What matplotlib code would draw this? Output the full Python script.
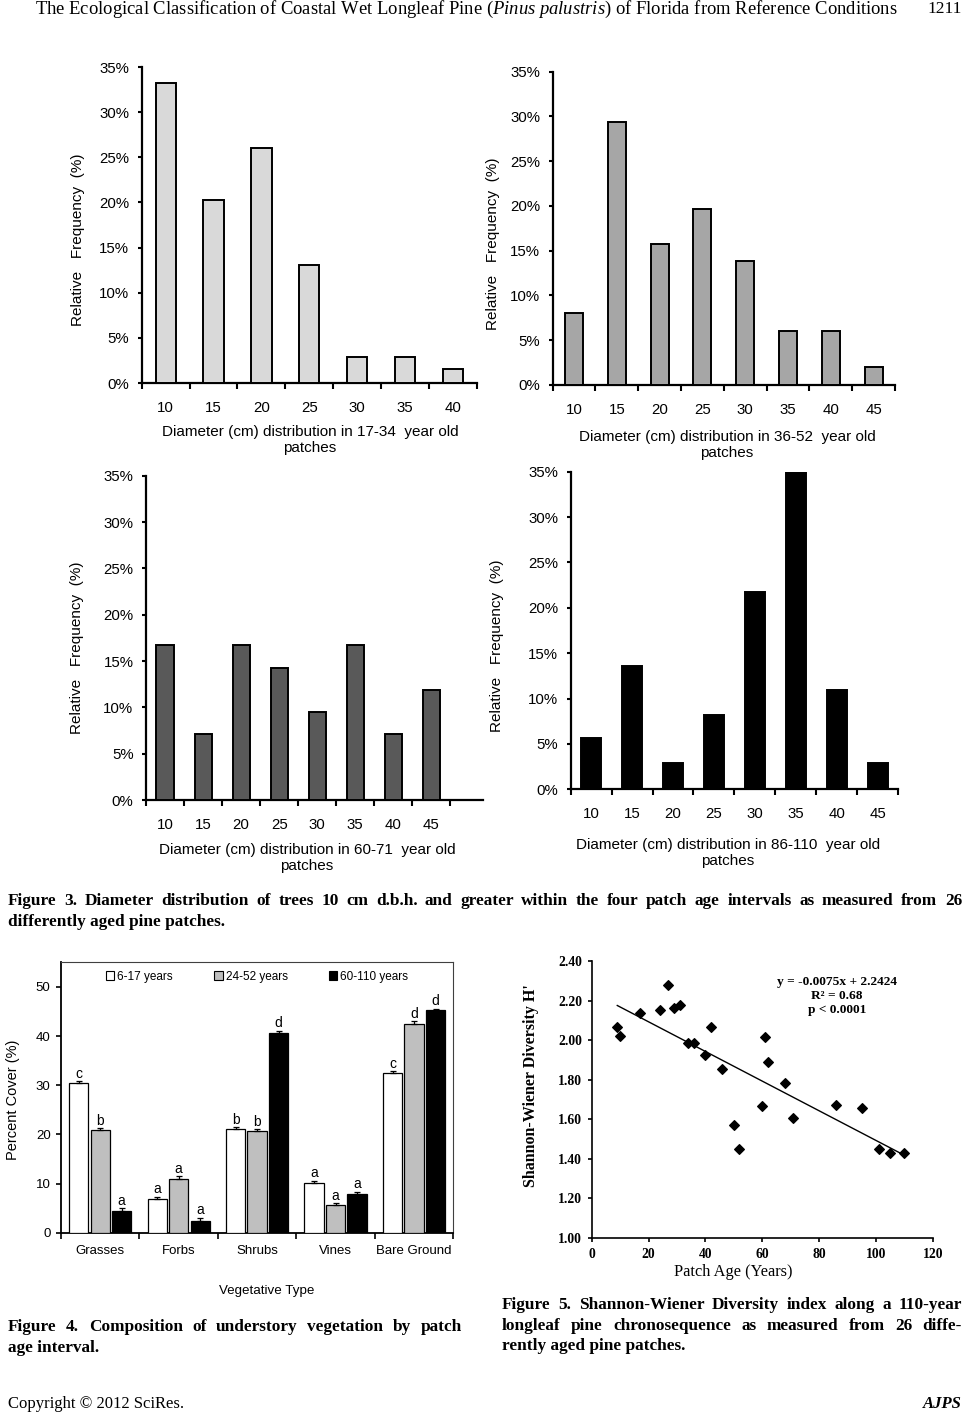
import numpy as np
import matplotlib
matplotlib.use("Agg")
import matplotlib.pyplot as plt
from matplotlib.patches import Patch
from matplotlib.ticker import FixedLocator, MultipleLocator, FuncFormatter

W, H = 965, 1414
plt.rcParams['font.family'] = ['Liberation Sans', 'DejaVu Sans']
plt.rcParams['mathtext.fontset'] = 'custom'
plt.rcParams['mathtext.rm'] = 'Liberation Serif'
plt.rcParams['mathtext.it'] = 'Liberation Serif:italic'

# ---- Figure 3: diameter distributions (relative frequency, %)
dbh_17_34 = ['10', '15', '20', '25', '30', '35', '40']
freq_17_34 = [33.2, 20.3, 26.0, 13.1, 2.9, 2.9, 1.5]
dbh_36_52 = ['10', '15', '20', '25', '30', '35', '40', '45']
freq_36_52 = [8.0, 29.4, 15.8, 19.7, 13.8, 6.0, 6.0, 2.0]
dbh_60_71 = ['10', '15', '20', '25', '30', '35', '40', '45']
freq_60_71 = [16.7, 7.1, 16.7, 14.3, 9.5, 16.7, 7.1, 11.9]
dbh_86_110 = ['10', '15', '20', '25', '30', '35', '40', '45']
freq_86_110 = [5.6, 13.6, 2.9, 8.2, 21.7, 35.0, 10.9, 2.9]

# ---- Figure 4: understory cover (%)
veg_types = ['Grasses', 'Forbs', 'Shrubs', 'Vines', 'Bare Ground']
age_groups = ['6-17 years', '24-52 years', '60-110 years']
cover_6_17 = [30.4, 6.8, 21.0, 10.1, 32.4]
cover_24_52 = [20.8, 11.0, 20.6, 5.6, 42.4]
cover_60_110 = [4.4, 2.3, 40.6, 7.9, 45.2]
err_6_17 = [0.45, 0.5, 0.45, 0.5, 0.45]
err_24_52 = [0.4, 0.45, 0.45, 0.4, 0.6]
err_60_110 = [0.6, 0.7, 0.45, 0.45, 0.35]
letters_6_17 = ['c', 'a', 'b', 'a', 'c']
letters_24_52 = ['b', 'a', 'b', 'a', 'd']
letters_60_110 = ['a', 'a', 'd', 'a', 'd']

# ---- Figure 5: Shannon-Wiener diversity vs patch age
patch_age = [9, 10, 17, 24, 27, 29, 31, 34, 36, 40, 42, 46, 50, 52,
             60, 61, 62, 68, 71, 86, 95, 101, 105, 110]
diversity = [2.064, 2.021, 2.135, 2.150, 2.279, 2.164, 2.176, 1.985, 1.983,
             1.924, 2.064, 1.855, 1.568, 1.447, 1.668, 2.014, 1.891, 1.784,
             1.604, 1.673, 1.655, 1.449, 1.427, 1.427]
slope, intercept = -0.0075, 2.2424

fig = plt.figure(figsize=(W / 100, H / 100), dpi=100)


def fx(x):
    return x / W


def fy(y):
    return 1 - y / H


def add_ax(l, t, r, b):
    return fig.add_axes([l / W, 1 - b / H, (r - l) / W, (b - t) / H])


def diam_panel(box, labels, values, color, xmax, width, ylab_xy, xlab_xy, xlab):
    ax = add_ax(*box)
    pos = np.arange(len(labels))
    ax.bar(pos, values, width=width, color=color, edgecolor='black',
           linewidth=1.4, zorder=3)
    ax.set_xlim(-0.5, xmax)
    ax.set_ylim(0, 35)
    for s in ['top', 'right']:
        ax.spines[s].set_visible(False)
    for s in ['left', 'bottom']:
        ax.spines[s].set_linewidth(1.6)
    ax.yaxis.set_major_locator(MultipleLocator(5))
    ax.yaxis.set_major_formatter(FuncFormatter(lambda v, p: '%d%%' % v))
    ax.tick_params(axis='y', direction='out', length=3, width=1.5,
                   labelsize=10.8, pad=6)
    ax.set_xticks(pos)
    ax.set_xticklabels(labels)
    ax.xaxis.set_minor_locator(FixedLocator(np.arange(len(labels) + 1) - 0.5))
    ax.tick_params(axis='x', which='major', length=0, labelsize=10.8, pad=13)
    ax.tick_params(axis='x', which='minor', direction='out', length=4, width=1.5)
    fig.text(fx(ylab_xy[0]), fy(ylab_xy[1]), 'Relative   Frequency  (%)',
             rotation=90, ha='center', va='center', fontsize=11)
    fig.text(fx(xlab_xy[0]), fy(xlab_xy[1]), xlab, ha='center', va='center',
             fontsize=11, linespacing=1.1)
    return ax


diam_panel((141.7, 67, 477, 383), dbh_17_34, freq_17_34, '#d9d9d9', 6.5, 0.42,
           (78, 240), (310, 440),
           'Diameter (cm) distribution in 17-34  year old\npatches')
diam_panel((552.7, 71.7, 895, 385), dbh_36_52, freq_36_52, '#a6a6a6', 7.5, 0.42,
           (493, 244), (727, 445),
           'Diameter (cm) distribution in 36-52  year old\npatches')
diam_panel((146, 475.7, 482.7, 800), dbh_60_71, freq_60_71, '#595959', 8.35, 0.45,
           (77, 648), (307, 858),
           'Diameter (cm) distribution in 60-71  year old\npatches')
diam_panel((570.7, 471.7, 898, 789.3), dbh_86_110, freq_86_110, 'black', 7.5, 0.49,
           (497, 646), (728, 853),
           'Diameter (cm) distribution in 86-110  year old\npatches')

# ---- Figure 4
ax4 = add_ax(61, 962.3, 453.3, 1232.7)
x = np.arange(len(veg_types))
bw, off = 0.246, 0.274
groups = [(cover_6_17, err_6_17, letters_6_17, 'white'),
          (cover_24_52, err_24_52, letters_24_52, '#bfbfbf'),
          (cover_60_110, err_60_110, letters_60_110, 'black')]
for k, (vals, errs, lets, col) in enumerate(groups):
    xs = x + (k - 1) * off
    ax4.bar(xs, vals, bw, color=col, edgecolor='black', linewidth=0.9,
            yerr=[np.zeros(len(vals)), errs],
            error_kw=dict(ecolor='black', elinewidth=0.9, capsize=2.5, capthick=0.9),
            zorder=3)
    for xi, v, e, l in zip(xs, vals, errs, lets):
        ax4.text(xi, v + e + 0.1, l, ha='center', va='bottom', fontsize=10)
ax4.set_xlim(-0.5, len(veg_types) - 0.5)
ax4.set_ylim(0, 55)
ax4.set_yticks([0, 10, 20, 30, 40, 50])
ax4.set_xticks(x)
ax4.set_xticklabels(veg_types)
ax4.xaxis.set_minor_locator(FixedLocator(np.arange(len(veg_types) + 1) - 0.5))
ax4.tick_params(axis='x', which='major', length=0, labelsize=9.5, pad=9)
ax4.tick_params(axis='x', which='minor', direction='out', length=4, width=1.2)
ax4.tick_params(axis='y', direction='out', length=3.5, width=1.2, labelsize=9.5, pad=4)
for s in ['top', 'right']:
    ax4.spines[s].set_color('#404040')
    ax4.spines[s].set_linewidth(0.8)
for s in ['left', 'bottom']:
    ax4.spines[s].set_linewidth(1.3)
handles = [Patch(facecolor=g[3], edgecolor='black', linewidth=0.8) for g in groups]
ax4.legend(handles, age_groups, loc='center', bbox_to_anchor=(0.5, 0.947),
           ncol=3, frameon=False, fontsize=8.5, handlelength=0.7, handleheight=0.7,
           handletextpad=0.25, columnspacing=3.5)
fig.text(fx(13), fy(1100), 'Percent Cover (%)', rotation=90, ha='center',
         va='center', fontsize=10.5)
fig.text(fx(267), fy(1291), 'Vegetative Type', ha='center', va='center', fontsize=9.6)

# ---- Figure 5
ax5 = add_ax(591.7, 961, 932.7, 1237.7)
ax5.scatter(patch_age, diversity, marker='D', s=24, color='black', zorder=3)
xl = np.array([min(patch_age), max(patch_age)])
ax5.plot(xl, slope * xl + intercept, color='black', linewidth=1.0)
ax5.set_xlim(0, 120)
ax5.set_ylim(1.0, 2.4)
ax5.xaxis.set_major_locator(MultipleLocator(20))
ax5.yaxis.set_major_locator(MultipleLocator(0.2))
ax5.yaxis.set_major_formatter(FuncFormatter(lambda v, p: '%.2f' % v))
for s in ['top', 'right']:
    ax5.spines[s].set_visible(False)
for s in ['left', 'bottom']:
    ax5.spines[s].set_linewidth(1.2)
ax5.tick_params(direction='out', length=3, width=1.2, labelsize=9.8)
ax5.tick_params(axis='y', pad=4)
ax5.tick_params(axis='x', pad=4.5)
for t in ax5.get_xticklabels() + ax5.get_yticklabels():
    t.set_fontfamily('Liberation Serif')
    t.set_fontweight('bold')
fig.text(fx(531), fy(1086), "Shannon-Wiener Diversity H'", rotation=90,
         ha='center', va='center', fontsize=11.5, family='Liberation Serif',
         weight='bold')
fig.text(fx(733), fy(1272), 'Patch Age (Years)', ha='center', va='center',
         fontsize=11.8, family='Liberation Serif')
fig.text(fx(837), fy(996), 'y = %.4fx + %.4f\nR\u00b2 = 0.68\np < 0.0001' % (slope, intercept),
         ha='center', va='center', fontsize=9.6, family='Liberation Serif',
         weight='bold', linespacing=1.2)

# ---- page text
rend = fig.canvas.get_renderer()


def justified(lines, x0, x1, y0, dy, size, **kw):
    for i, line in enumerate(lines):
        y = fy(y0 + i * dy)
        if i == len(lines) - 1:
            fig.text(fx(x0), y, line, fontsize=size, va='center', **kw)
            continue
        words = line.split()
        ts = [fig.text(0, y, w_, fontsize=size, va='center', **kw) for w_ in words]
        widths = [t.get_window_extent(rend).width for t in ts]
        gap = (x1 - x0 - sum(widths)) / (len(words) - 1)
        xp = x0
        for t, w_ in zip(ts, widths):
            t.set_x(fx(xp))
            xp += w_ + gap


cap = dict(family='Liberation Serif', weight='bold')
justified(['Figure 3. Diameter distribution of trees 10 cm d.b.h. and greater within the four patch age intervals as measured from 26',
           'differently aged pine patches.'], 8, 962, 901, 20.5, 12.4, **cap)
justified(['Figure 4. Composition of understory vegetation by patch',
           'age interval.'], 8, 462, 1327, 21, 12.4, **cap)
justified(['Figure 5. Shannon-Wiener Diversity index along a 110-year',
           'longleaf pine chronosequence as measured from 26 diffe-',
           'rently aged pine patches.'], 502, 962, 1305, 20.5, 12.4, **cap)

fig.text(fx(35), fy(9), r'The Ecological Classification of Coastal Wet Longleaf Pine ($\mathit{Pinus\ palustris}$) of Florida from Reference Conditions',
         ha='left', va='center', fontsize=13.4, family='Liberation Serif')
fig.text(fx(962), fy(9), '1211', ha='right', va='center', fontsize=12.5,
         family='Liberation Serif')
fig.text(fx(8), fy(1404), 'Copyright \u00a9 2012 SciRes.', ha='left', va='center',
         fontsize=12, family='Liberation Serif')
fig.text(fx(962), fy(1404), 'AJPS', ha='right', va='center', fontsize=12,
         family='Liberation Serif', weight='bold', style='italic')

fig.savefig('out.png', dpi=100)
